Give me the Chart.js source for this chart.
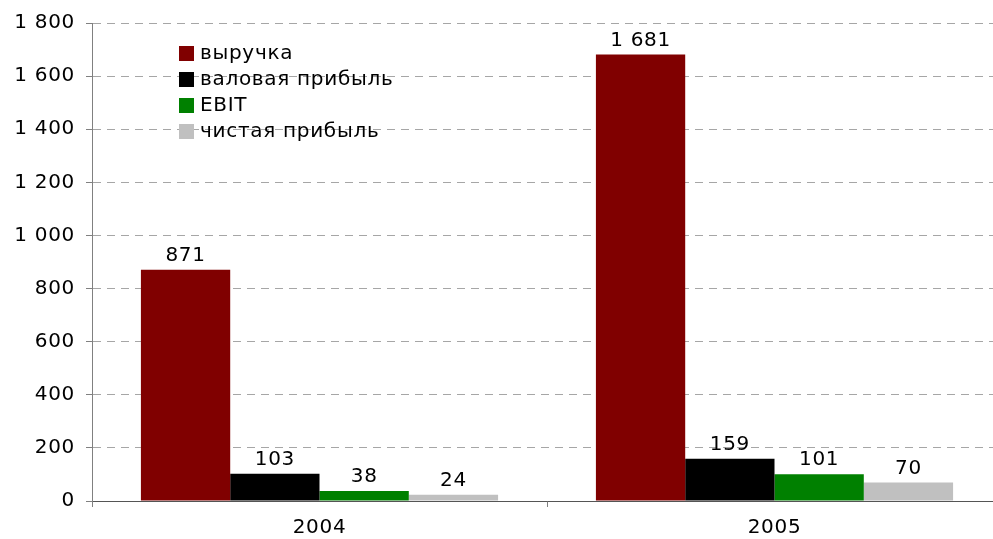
<!DOCTYPE html>
<html>
<head>
<meta charset="utf-8">
<script src="https://cdn.jsdelivr.net/npm/chart.js@4"></script>
<style>
    html, body { margin: 0; padding: 0; background: #fff; overflow: hidden; }
    #wrap { width: 1002px; height: 539px; }
</style>
</head>
<body>
<div id="wrap"><canvas id="finChart"></canvas></div>
<script>
// Data
const years = ['2004', '2005'];
const seriesNames = ['выручка', 'валовая прибыль', 'EBIT', 'чистая прибыль'];
const revenue = [871, 1681];
const grossProfit = [103, 159];
const ebit = [38, 101];
const netProfit = [24, 70];
const seriesColors = ['#800000', '#000000', '#008000', '#c0c0c0'];

const FONT = '"DejaVu Sans", Verdana, sans-serif';
const SPACING = '0.7px';

// Helper: 1681 -> "1 681"
function formatNumber(num) {
    return num.toString().replace(/\B(?=(\d{3})+(?!\d))/g, ' ');
}

// Widen text a little (closer to Verdana)
const textSpacing = {
    id: 'textSpacing',
    beforeDraw(chart) {
        chart.ctx.letterSpacing = SPACING;
    }
};

// Value labels above bars
const valueLabels = {
    id: 'valueLabels',
    afterDatasetsDraw(chart) {
        const ctx = chart.ctx;
        ctx.save();
        ctx.letterSpacing = SPACING;
        ctx.font = '20px ' + FONT;
        ctx.fillStyle = '#000';
        ctx.textAlign = 'center';
        ctx.textBaseline = 'bottom';
        chart.data.datasets.forEach((ds, i) => {
            chart.getDatasetMeta(i).data.forEach((bar, j) => {
                ctx.fillText(formatNumber(ds.data[j]), bar.x, bar.y - 4);
            });
        });
        ctx.restore();
    }
};

// Legend drawn inside the plot area
const innerLegend = {
    id: 'innerLegend',
    afterDraw(chart) {
        const ctx = chart.ctx;
        ctx.save();
        ctx.letterSpacing = SPACING;
        ctx.font = '20px ' + FONT;
        ctx.textBaseline = 'middle';
        ctx.textAlign = 'left';
        chart.data.datasets.forEach((ds, i) => {
            const y = 53 + i * 26;
            ctx.fillStyle = ds.backgroundColor;
            ctx.fillRect(179, y - 7, 15, 15);
            ctx.fillStyle = '#000';
            ctx.fillText(ds.label, 200, y + 1);
        });
        ctx.restore();
    }
};

const values = [revenue, grossProfit, ebit, netProfit];

new Chart(document.getElementById('finChart'), {
    type: 'bar',
    data: {
        labels: years,
        datasets: seriesNames.map((name, i) => ({
            label: name,
            data: values[i],
            backgroundColor: seriesColors[i],
            borderWidth: 0,
            categoryPercentage: 0.785,
            barPercentage: 1.0
        }))
    },
    options: {
        responsive: true,
        maintainAspectRatio: false,
        animation: false,
        layout: {
            padding: { top: 23, right: 0, bottom: 0, left: 0 }
        },
        plugins: {
            legend: { display: false },
            tooltip: { enabled: false }
        },
        scales: {
            x: {
                offset: true,
                afterFit: scale => { scale.height = 38; },
                grid: {
                    offset: true,
                    drawOnChartArea: false,
                    tickLength: 6,
                    tickColor: '#808080'
                },
                border: { color: '#555', width: 1 },
                ticks: {
                    color: '#000',
                    padding: 9,
                    font: { family: FONT, size: 20 }
                }
            },
            y: {
                min: 0,
                max: 1800,
                afterFit: scale => { scale.width = 92; },
                grid: {
                    color: '#a6a6a6',
                    tickColor: '#808080',
                    tickLength: 6
                },
                border: { color: '#808080', width: 1, dash: [8, 6] },
                ticks: {
                    stepSize: 200,
                    color: '#000',
                    padding: 11,
                    font: { family: FONT, size: 20 },
                    callback: v => formatNumber(v)
                }
            }
        }
    },
    plugins: [textSpacing, valueLabels, innerLegend]
});
</script>
</body>
</html>
